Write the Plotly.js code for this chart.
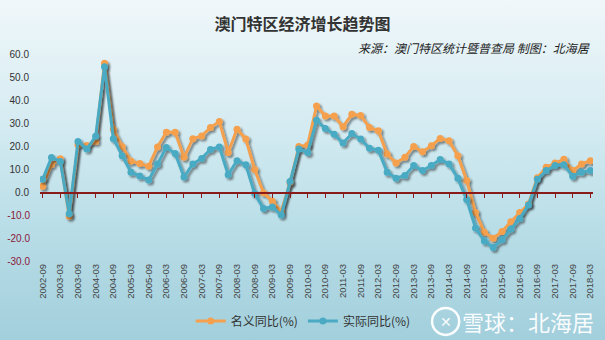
<!DOCTYPE html>
<html><head><meta charset="utf-8">
<script src="https://cdn.plot.ly/plotly-3.0.1.min.js"></script>
<style>
html,body{margin:0;padding:0;}
body{width:605px;height:340px;overflow:hidden;background:linear-gradient(to bottom,#f0f7fa 0%,#d6ecf2 35%,#b8dde7 68%,#a2cfdc 100%);}
#chart{width:605px;height:340px;}
#chart .scatterlayer .trace{filter:url(#lineShadow);}
</style></head><body>
<svg width="0" height="0" style="position:absolute">
 <defs>
  <filter id="lineShadow" x="-5%" y="-5%" width="110%" height="115%">
   <feGaussianBlur in="SourceAlpha" stdDeviation="1.2"/>
   <feOffset dx="1.5" dy="2" result="off"/>
   <feComponentTransfer><feFuncA type="linear" slope="0.45"/></feComponentTransfer>
   <feMerge><feMergeNode/><feMergeNode in="SourceGraphic"/></feMerge>
  </filter>
 </defs>
</svg>
<div id="chart"></div>
<script>
const quarters = [
 "2002-09","2002-12",
 "2003-03","2003-06","2003-09","2003-12",
 "2004-03","2004-06","2004-09","2004-12",
 "2005-03","2005-06","2005-09","2005-12",
 "2006-03","2006-06","2006-09","2006-12",
 "2007-03","2007-06","2007-09","2007-12",
 "2008-03","2008-06","2008-09","2008-12",
 "2009-03","2009-06","2009-09","2009-12",
 "2010-03","2010-06","2010-09","2010-12",
 "2011-03","2011-06","2011-09","2011-12",
 "2012-03","2012-06","2012-09","2012-12",
 "2013-03","2013-06","2013-09","2013-12",
 "2014-03","2014-06","2014-09","2014-12",
 "2015-03","2015-06","2015-09","2015-12",
 "2016-03","2016-06","2016-09","2016-12",
 "2017-03","2017-06","2017-09","2017-12",
 "2018-03"
];
const nominalYoY = [
 2.5,12,14.5,-10.5,20.5,20.2,22,56,27.3,19.8,
 13.5,12.4,11.2,19.6,26,26,15.1,23.2,24.4,28,
 30.7,17.2,27.3,23,9.8,-0.3,-4,-8.5,4,19.8,
 20.4,37.4,33,33,28.4,33.8,33.3,28,26.6,16.5,
 12.6,15.1,19.8,17.5,20.1,23.3,22.3,15.8,5,-8.9,
 -17.5,-20.1,-17.2,-12.9,-8.9,-5.2,6.2,10.8,12.6,14.2,
 9.3,12.2,13.6
];
const realYoY = [
 5.5,15,13.3,-9.5,22,18.7,24.2,54.5,23.2,15.8,
 8.6,7,5.2,12.2,19.4,16.7,6.5,12.2,14.6,18.5,
 19.6,7.5,13.6,11.8,-0.7,-7.2,-6.5,-10,4.6,18.7,
 17.2,31.2,27.6,25.1,21.3,25.4,23,19,18.2,8.6,
 6,7.2,11.5,9.3,11.5,14.1,12.2,6,-3.3,-15.6,
 -21.3,-24.1,-20.8,-16.1,-11.5,-5.7,5.5,9.3,11.5,11.8,
 6.9,8.6,9.3
];
const seriesNames = ["名义同比(%)","实际同比(%)"];
const posTicks = [0,10,20,30,40,50,60];
const negTicks = [-30,-20,-10];
const xTickLabels = quarters.filter((q,i)=>i%2===0);

const orange = "#F4A04E", teal = "#4AAAC3";
const xrange = [-0.3, 62.3], yrange = [-30, 60];

const traces = [
 {x: quarters, y: nominalYoY, name: seriesNames[0], type: "scatter", mode: "lines+markers",
  xaxis: "x", yaxis: "y",
  line: {color: orange, width: 3}, marker: {color: orange, size: 7}},
 {x: quarters, y: realYoY, name: seriesNames[1], type: "scatter", mode: "lines+markers",
  xaxis: "x2", yaxis: "y2",
  line: {color: teal, width: 3}, marker: {color: teal, size: 7}}
];

const fontLatin = "Liberation Sans, Arial, sans-serif";
const fontCJK = "Noto Sans CJK SC, sans-serif";

const layout = {
 width: 605, height: 340,
 margin: {l: 40, r: 12, t: 54, b: 79, autoexpand: false},
 paper_bgcolor: "rgba(0,0,0,0)", plot_bgcolor: "rgba(0,0,0,0)",
 showlegend: true,
 title: {text: "澳门特区经济增长趋势图", xref: "container", x: 0.5, xanchor: "center",
  yref: "container", y: 1 - 24/340, yanchor: "middle",
  font: {family: fontCJK, size: 16, color: "#333333", weight: "bold"}},
 xaxis: {type: "category", categoryorder: "array", categoryarray: quarters, range: xrange,
  automargin: false,
  tickmode: "array", tickvals: xTickLabels, ticktext: xTickLabels, tickangle: -90,
  tickfont: {family: fontLatin, size: 9.5, color: "#444444"},
  showline: false, showgrid: false, zeroline: false, ticks: ""},
 xaxis2: {type: "category", categoryorder: "array", categoryarray: quarters, range: xrange,
  automargin: false,
  overlaying: "x", anchor: "free", position: (0 - yrange[0]) / (yrange[1] - yrange[0]),
  tickmode: "array", tickvals: xTickLabels, showticklabels: false,
  showline: true, linecolor: "#8B1A1A", linewidth: 1.5,
  ticks: "outside", ticklen: 4, tickcolor: "#8B1A1A", tickwidth: 1,
  showgrid: false, zeroline: false},
 yaxis: {range: yrange, tickmode: "array", tickvals: posTicks, automargin: false,
  ticktext: posTicks.map(v => v.toFixed(1)),
  tickfont: {family: fontLatin, size: 10, color: "#333333"},
  showline: false, showgrid: false, zeroline: false, ticks: "", ticklabelstandoff: 10},
 yaxis2: {range: yrange, overlaying: "y", anchor: "free", position: 0, side: "left", automargin: false,
  tickmode: "array", tickvals: negTicks, ticktext: negTicks.map(v => v.toFixed(1)),
  tickfont: {family: fontLatin, size: 10, color: "#8B1A3A"},
  showline: false, showgrid: false, zeroline: false, ticks: "", ticklabelstandoff: 10},
 legend: {orientation: "h", x: 0.476, xanchor: "center", y: -0.29, yanchor: "middle",
  font: {family: fontCJK, size: 12, color: "#333333"}, bgcolor: "rgba(0,0,0,0)",
  itemwidth: 30},
 annotations: [
  {text: "来源：澳门特区统计暨普查局 制图：北海居", xref: "paper", yref: "paper",
   x: 0.998, xanchor: "right", y: 1.029, yanchor: "middle", showarrow: false,
   font: {family: fontCJK, size: 12, color: "#222222", style: "italic"}},
  {text: "雪球：北海居", xref: "paper", yref: "paper",
   x: 1.005, xanchor: "right", y: -0.29, yanchor: "middle", showarrow: false,
   font: {family: fontCJK, size: 22, color: "rgba(255,255,255,0.95)"}},
  {text: "✕", xref: "paper", yref: "paper",
   x: 0.7335, xanchor: "center", y: -0.292, yanchor: "middle", showarrow: false,
   font: {family: fontCJK, size: 14, color: "rgba(255,255,255,0.95)"}}
 ],
 shapes: [
  {type: "circle", xref: "paper", yref: "paper", x0: 0.709, x1: 0.758, y0: -0.357, y1: -0.227,
   line: {color: "rgba(255,255,255,0.95)", width: 2.5}}
 ]
};

Plotly.newPlot("chart", traces, layout, {displayModeBar: false, staticPlot: true});
</script>
</body></html>
